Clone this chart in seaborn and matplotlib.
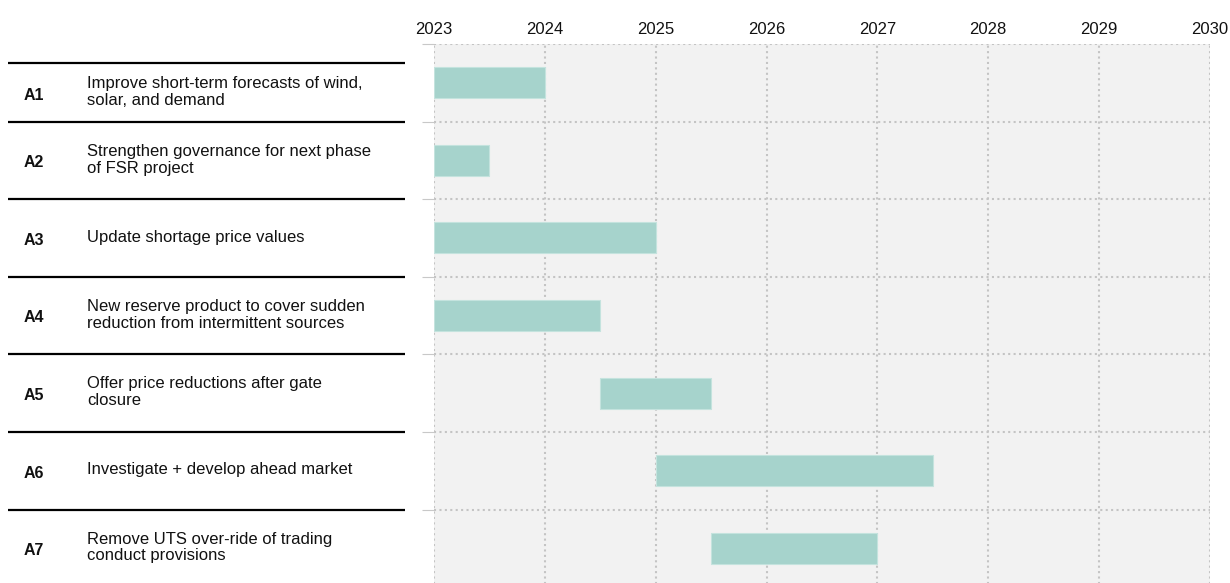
import seaborn as sns
import pandas as pd
import matplotlib.pyplot as plt
from matplotlib.transforms import blended_transform_factory

codes = ['A1', 'A2', 'A3', 'A4', 'A5', 'A6', 'A7']
actions = ['Improve short-term forecasts of wind,\nsolar, and demand',
           'Strengthen governance for next phase\nof FSR project',
           'Update shortage price values',
           'New reserve product to cover sudden\nreduction from intermittent sources',
           'Offer price reductions after gate\nclosure',
           'Investigate + develop ahead market',
           'Remove UTS over-ride of trading\nconduct provisions']
start = [2023.0, 2023.0, 2023.0, 2023.0, 2024.5, 2025.0, 2025.5]
end = [2024.0, 2023.5, 2025.0, 2024.5, 2025.5, 2027.5, 2027.0]
years = list(range(2023, 2031))

sns.set_style('white')
plt.rcParams['font.family'] = ['Liberation Sans', 'DejaVu Sans']

data = pd.DataFrame()
data['code'] = codes
data['start'] = start
data['duration'] = [e - s for s, e in zip(start, end)]

fig = plt.figure(figsize=(12.3, 5.83), dpi=100)
ax = fig.add_axes([0.3528, -0.007, 0.6309, 0.9315])
ax.set_facecolor('#f2f2f2')

sns.barplot(data=data, x='duration', y='code', left=data['start'],
            color='#a6d3cc', saturation=1, width=0.4, ax=ax,
            edgecolor='#c4e3de', linewidth=0.8, zorder=3)

ax.set_xlim(years[0], years[-1])
ax.set_ylim(len(codes) - 0.5, -0.5)
ax.set_xticks(years)
ax.set_xticklabels([str(y) for y in years], fontsize=12, color='#111111')
ax.xaxis.tick_top()
ax.tick_params(axis='x', length=0, pad=5)
ax.set_yticks([i - 0.5 for i in range(len(codes) + 1)])
ax.set_yticklabels([])
ax.tick_params(axis='y', length=9, width=0.8, color='#c8c8c8', left=True)
ax.grid(True, linestyle=(0, (1, 1.6)), color='#c4c4c4', linewidth=1.5)
ax.set_axisbelow(True)
ax.set_xlabel('')
ax.set_ylabel('')
for s in ax.spines.values():
    s.set_visible(False)

# left-hand table of actions
tr = blended_transform_factory(fig.transFigure, ax.transData)
seps = [-0.25] + [i + 0.5 for i in range(len(codes) - 1)]
for y in seps:
    ax.plot([0.0065, 0.329], [y, y], transform=tr, color='black',
            linewidth=1.6, clip_on=False, solid_capstyle='butt')
for i, (c, a) in enumerate(zip(codes, actions)):
    off = 0.13 if i == 0 else 0
    ax.text(0.0195, i + off + 0.03, c, transform=tr, fontsize=11.5, fontweight='bold',
            va='center', ha='left', color='#111111')
    ax.text(0.0707, i - 0.01 + off, a, transform=tr, fontsize=12,
            va='center', ha='left', color='#111111', linespacing=1.15)

plt.savefig('out.png', dpi=100)
plt.close()
